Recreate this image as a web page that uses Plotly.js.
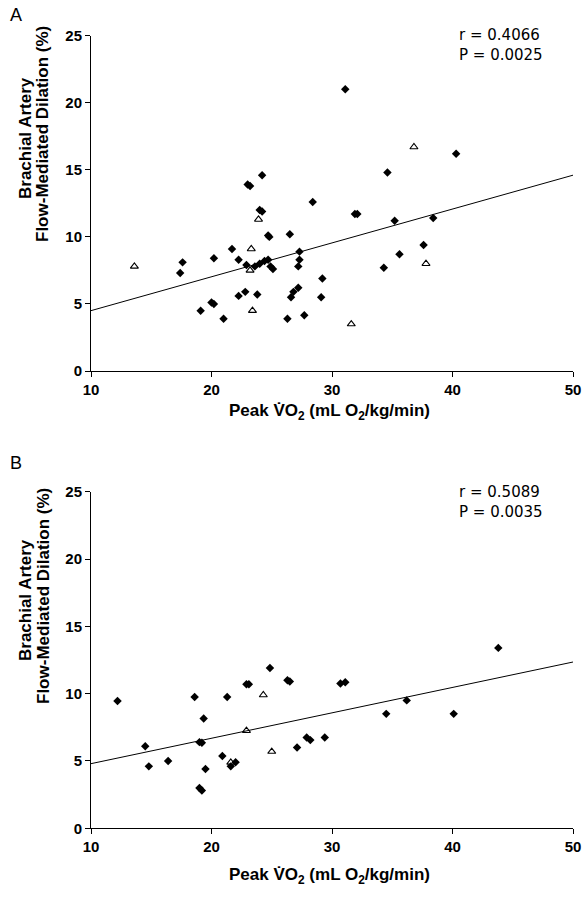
<!DOCTYPE html>
<html>
<head>
<meta charset="utf-8">
<script src="https://cdn.plot.ly/plotly-3.0.1.min.js"></script>
<style>html,body{margin:0;padding:0;background:#fff}#chart{width:584px;height:900px}</style>
</head>
<body>
<div id="chart"></div>
<script>
// ---------- Panel A data ----------
var aDiamondX = [17.4,17.6,19.1,20.0,20.2,20.2,21.0,21.7,22.25,22.25,22.8,22.9,23.0,23.2,23.6,23.8,24.0,24.0,24.2,24.2,24.4,24.7,24.7,24.8,24.9,25.1,26.3,26.5,26.6,26.8,27.2,27.2,27.3,27.3,27.7,28.4,29.1,29.2,31.1,31.9,32.1,34.3,34.6,35.2,35.6,37.6,38.4,40.3];
var aDiamondY = [7.3,8.1,4.5,5.1,5.0,8.4,3.9,9.1,8.3,5.6,5.9,7.9,13.9,13.8,7.8,5.7,8.0,12.0,11.9,14.6,8.2,8.3,10.1,10.0,7.8,7.6,3.9,10.2,5.5,5.9,6.2,7.8,8.3,8.9,4.15,12.6,5.5,6.9,21.0,11.7,11.7,7.7,14.8,11.2,8.7,9.4,11.4,16.2];
var aTriX = [13.6,23.2,23.3,23.4,23.9,31.6,36.8,37.8];
var aTriY = [7.8,7.5,9.1,4.5,11.3,3.5,16.7,8.0];
var aLineX = [10,50];
var aLineY = [4.5,14.6];
var aStats = ["r = 0.4066","P = 0.0025"];

// ---------- Panel B data ----------
var bDiamondX = [12.2,14.5,14.8,16.4,18.6,19.0,19.2,19.0,19.2,19.35,19.5,20.9,21.3,21.6,22.0,22.9,23.1,24.85,26.3,26.5,27.1,27.9,28.2,29.4,30.7,31.1,34.5,36.2,40.1,43.8];
var bDiamondY = [9.45,6.1,4.6,5.0,9.75,3.0,2.8,6.4,6.35,8.15,4.4,5.37,9.75,4.6,4.9,10.7,10.7,11.9,11.0,10.9,6.0,6.75,6.55,6.75,10.75,10.85,8.5,9.5,8.5,13.4];
var bTriX = [21.6,22.9,24.3,25.0];
var bTriY = [4.9,7.25,9.9,5.7];
var bLineX = [10,50];
var bLineY = [4.8,12.35];
var bStats = ["r = 0.5089","P = 0.0035"];

// ---------- axes / labels ----------
var xTicks = [10,20,30,40,50];
var yTicks = [0,5,10,15,20,25];
var xTitle = "Peak V\u0307O<sub>2</sub> (mL O<sub>2</sub>/kg/min)";
var yTitle1 = "Brachial Artery";
var yTitle2 = "Flow-Mediated Dilation (%)";
var panelLabels = ["A","B"];

var W = 584, H = 900;
function px(x){return x/W;}
function py(y){return 1 - y/H;}

var diamond = {symbol:'diamond', size:6.5, color:'#000', line:{width:0}};
var tri = {symbol:'triangle-up-open', size:7, color:'#000', line:{width:1.1, color:'#000'}};

var traces = [
  {x:aLineX, y:aLineY, xaxis:'x', yaxis:'y', mode:'lines', line:{color:'#000', width:1}, hoverinfo:'skip'},
  {x:aDiamondX, y:aDiamondY, xaxis:'x', yaxis:'y', mode:'markers', type:'scatter', marker:diamond},
  {x:aTriX, y:aTriY, xaxis:'x', yaxis:'y', mode:'markers', type:'scatter', marker:tri},
  {x:bLineX, y:bLineY, xaxis:'x2', yaxis:'y2', mode:'lines', line:{color:'#000', width:1}, hoverinfo:'skip'},
  {x:bDiamondX, y:bDiamondY, xaxis:'x2', yaxis:'y2', mode:'markers', type:'scatter', marker:diamond},
  {x:bTriX, y:bTriY, xaxis:'x2', yaxis:'y2', mode:'markers', type:'scatter', marker:tri}
];

var tickFont = {family:'Arial, "Liberation Sans", sans-serif', size:15, color:'#000', weight:'bold'};
function xax(anchor){
  return {domain:[px(91),px(573)], range:[10,50], anchor:anchor, tickvals:xTicks, ticktext:xTicks.map(String),
    showgrid:false, zeroline:false, showline:true, linecolor:'#000', linewidth:1,
    ticks:'outside', ticklen:5, tickcolor:'#000', tickfont:tickFont, fixedrange:true};
}
function yax(anchor, top, bottom){
  return {domain:[py(bottom),py(top)], range:[0,25], anchor:anchor, tickvals:yTicks, ticktext:yTicks.map(String),
    showgrid:false, zeroline:false, showline:true, linecolor:'#000', linewidth:1,
    ticks:'outside', ticklen:5, tickcolor:'#000', tickfont:tickFont, fixedrange:true};
}

var titleFont = {family:'Arial, "Liberation Sans", sans-serif', size:17, color:'#000', weight:'bold'};
var statFont = {family:'"DejaVu Sans", sans-serif', size:15, color:'#000'};
var labFont = {family:'Arial, "Liberation Sans", sans-serif', size:18, color:'#000'};

function ann(text, x, y, font, opts){
  var a = {text:text, xref:'paper', yref:'paper', x:px(x), y:py(y), showarrow:false, font:font,
           xanchor:'center', yanchor:'middle'};
  for (var k in (opts||{})) a[k]=opts[k];
  return a;
}

var annotations = [
  ann(panelLabels[0], 16, 15, labFont),
  ann(panelLabels[1], 16, 463, labFont),
  ann(yTitle1, 25, 138, titleFont, {textangle:-90}),
  ann(yTitle2, 43, 134, titleFont, {textangle:-90}),
  ann(yTitle1, 25, 600, titleFont, {textangle:-90}),
  ann(yTitle2, 43, 596, titleFont, {textangle:-90}),
  ann(xTitle, 329, 412, titleFont),
  ann(xTitle, 329, 876, titleFont),
  ann(aStats[0], 457, 35, statFont, {xanchor:'left'}),
  ann(aStats[1], 457, 55, statFont, {xanchor:'left'}),
  ann(bStats[0], 457, 492, statFont, {xanchor:'left'}),
  ann(bStats[1], 457, 512, statFont, {xanchor:'left'})
];

var layout = {
  width:W, height:H, margin:{l:0,r:0,t:0,b:0}, showlegend:false,
  paper_bgcolor:'#fff', plot_bgcolor:'#fff',
  xaxis: xax('y'), yaxis: yax('x', 35.7, 371),
  xaxis2: xax('y2'), yaxis2: yax('x2', 491.7, 828.3),
  annotations: annotations,
  font:{family:'Arial, "Liberation Sans", sans-serif', color:'#000'}
};

Plotly.newPlot('chart', traces, layout, {staticPlot:true, displayModeBar:false});
</script>
</body>
</html>
